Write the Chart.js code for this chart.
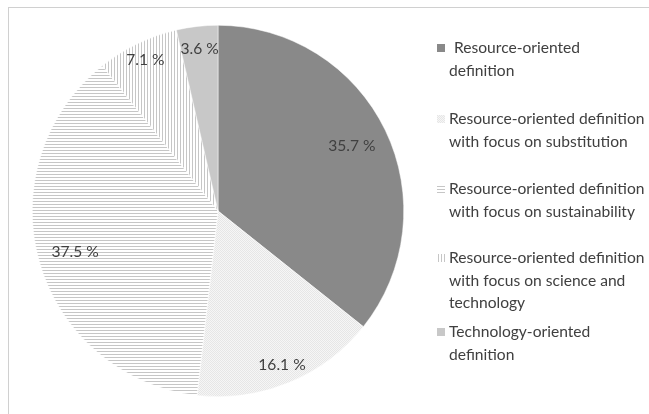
<!DOCTYPE html>
<html>
<head>
<meta charset="utf-8">
<script src="https://cdn.jsdelivr.net/npm/chart.js@4.4.1/dist/chart.umd.min.js"></script>
<style>
  body { margin: 0; background: #fff; }
  #wrap { position: relative; width: 649px; height: 414px; }
  #frame { position: absolute; left: 8px; top: 7px; width: 660px; height: 420px;
           border: 1px solid #d0d0d0; box-sizing: border-box; }
</style>
</head>
<body>
<div id="wrap">
  <div id="frame"></div>
  <canvas id="myChart" width="649" height="414"></canvas>
</div>
<script>
// data
const categories = [
  ['Resource-oriented', 'definition'],
  ['Resource-oriented definition', 'with focus on substitution'],
  ['Resource-oriented definition', 'with focus on sustainability'],
  ['Resource-oriented definition', 'with focus on science and', 'technology'],
  ['Technology-oriented', 'definition']
];
const shares = [35.7, 16.1, 37.5, 7.1, 3.6];
const valueLabels = ['35.7 %', '16.1 %', '37.5 %', '7.1 %', '3.6 %'];

function tile(w, h, draw) {
  const c = document.createElement('canvas');
  c.width = w; c.height = h;
  const g = c.getContext('2d');
  draw(g);
  return g.createPattern(c, 'repeat');
}
const ctx0 = document.getElementById('myChart').getContext('2d');

const dotted = tile(2, 2, g => {
  g.fillStyle = '#f6f6f6'; g.fillRect(0, 0, 2, 2);
  g.fillStyle = '#e6e6e6'; g.fillRect(0, 0, 1, 1); g.fillRect(1, 1, 1, 1);
});
const horiz = tile(1, 3, g => {
  g.fillStyle = '#ffffff'; g.fillRect(0, 0, 1, 3);
  g.fillStyle = '#c6c6c6'; g.fillRect(0, 0, 1, 1);
});
const vert = tile(3, 1, g => {
  g.fillStyle = '#ffffff'; g.fillRect(0, 0, 3, 1);
  g.fillStyle = '#c6c6c6'; g.fillRect(0, 0, 1, 1);
});
const fills = ['#898989', dotted, horiz, vert, '#c8c8c8'];

const FONT = '15.6px Lato, "Open Sans", sans-serif';

// value labels inside the pie
const sliceLabels = {
  id: 'sliceLabels',
  afterDatasetsDraw(chart, args, opts) {
    const ctx = chart.ctx;
    const meta = chart.getDatasetMeta(0);
    ctx.save();
    ctx.font = FONT;
    ctx.fillStyle = '#404040';
    ctx.textAlign = 'center';
    ctx.textBaseline = 'middle';
    meta.data.forEach((arc, i) => {
      const p = arc.getProps(['x', 'y', 'startAngle', 'endAngle', 'outerRadius']);
      const mid = (p.startAngle + p.endAngle) / 2;
      const r = p.outerRadius * opts.radius[i];
      ctx.fillText(valueLabels[i], p.x + Math.cos(mid) * r, p.y + Math.sin(mid) * r);
    });
    ctx.restore();
  }
};

// legend on the right with wrapped labels
const sideLegend = {
  id: 'sideLegend',
  afterDraw(chart, args, opts) {
    const ctx = chart.ctx;
    ctx.save();
    ctx.font = FONT;
    ctx.textBaseline = 'middle';
    categories.forEach((lines, i) => {
      const y0 = opts.top[i];
      ctx.fillStyle = fills[i];
      ctx.fillRect(opts.x, y0 - 4, 8, 8);
      ctx.fillStyle = '#404040';
      lines.forEach((t, k) => {
        const dx = (i === 0 && k === 0) ? 5 : 0;
        ctx.fillText(t, opts.x + 12 + dx, y0 + k * 22.5);
      });
    });
    ctx.restore();
  }
};

new Chart(ctx0, {
  type: 'pie',
  data: {
    labels: categories,
    datasets: [{
      data: shares,
      backgroundColor: fills,
      borderColor: '#ffffff',
      borderWidth: 0.5
    }]
  },
  plugins: [sliceLabels, sideLegend],
  options: {
    responsive: false,
    animation: false,
    layout: { padding: { left: 32, top: 25, right: 245, bottom: 17 } },
    plugins: {
      legend: { display: false },
      tooltip: { enabled: false },
      sliceLabels: { radius: [0.8, 0.9, 0.8, 0.9, 0.88] },
      sideLegend: { x: 437, top: [48, 119, 189, 258, 332] }
    }
  }
});
</script>
</body>
</html>
